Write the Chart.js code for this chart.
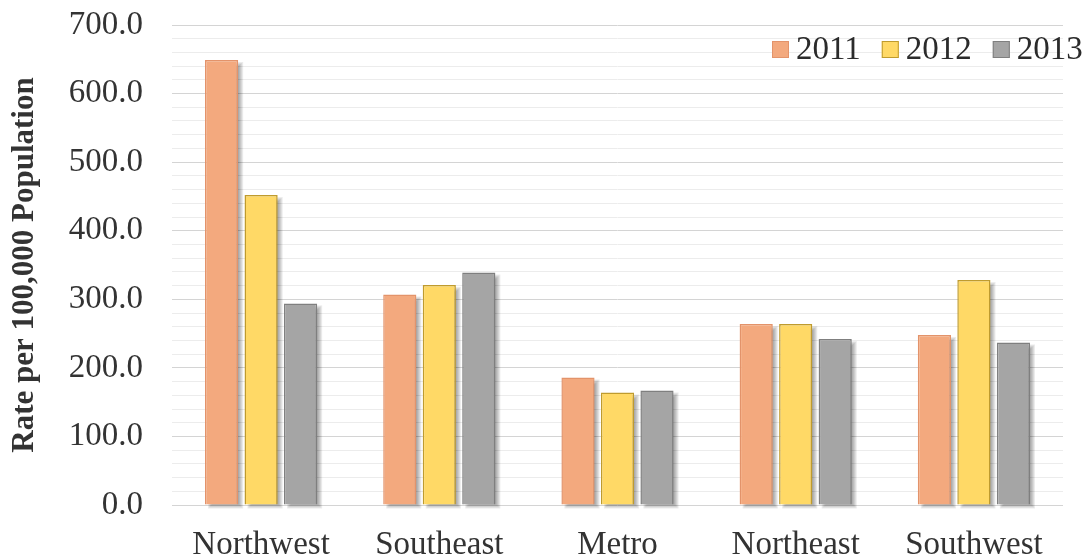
<!DOCTYPE html>
<html>
<head>
<meta charset="utf-8">
<script src="https://cdn.jsdelivr.net/npm/chart.js@4/dist/chart.umd.min.js"></script>
<style>
  html, body { margin: 0; padding: 0; background: #fff; }
  #wrap { width: 1091px; height: 558px; }
</style>
</head>
<body>
<div id="wrap"><canvas id="barchart" width="1091" height="558"></canvas></div>
<script>
const regions = ['Northwest', 'Southeast', 'Metro', 'Northeast', 'Southwest'];
const years = ['2011', '2012', '2013'];
const rate2011 = [649, 307, 186, 264, 248];
const rate2012 = [452, 321, 164, 264, 328];
const rate2013 = [294, 339, 167, 242, 237];

const fills = ['#F3A97E', '#FFD966', '#A5A5A5'];
const edges = ['#E3936A', '#BF9B2E', '#7F7F7F'];
const serif = "'Liberation Serif', 'Times New Roman', serif";

// soft drop shadow behind each bar (drawn from the bar elements themselves)
const barShadow = {
  id: 'barShadow',
  beforeDatasetsDraw(chart) {
    const c = chart.ctx;
    c.save();
    chart.data.datasets.forEach((ds, i) => {
      chart.getDatasetMeta(i).data.forEach(bar => {
        const l = bar.x - bar.width / 2 + 4;
        const t = bar.y + 3;
        const w = bar.width;
        const h = bar.base - bar.y;
        for (let k = 0; k < 6; k++) {
          c.fillStyle = 'rgba(0,0,0,0.08)';
          c.fillRect(l - k + 4, t - k + 4, w + 2 * k - 8, h + 2 * k - 8);
        }
      });
    });
    c.restore();
  }
};

// legend sits over the top-right of the plot
const cornerLegend = {
  id: 'cornerLegend',
  afterDraw(chart) {
    const c = chart.ctx;
    c.save();
    c.font = '33px ' + serif;
    c.textBaseline = 'middle';
    let x = 772;
    const y = 49;
    chart.data.datasets.forEach(ds => {
      c.fillStyle = ds.backgroundColor;
      c.fillRect(x, y - 8, 17, 17);
      c.strokeStyle = ds.borderColor;
      c.lineWidth = 1;
      c.strokeRect(x + 0.5, y - 7.5, 16, 16);
      c.fillStyle = '#2b2b2b';
      c.fillText(ds.label, x + 24, y + 1);
      x += 24 + c.measureText(ds.label).width + 21;
    });
    c.restore();
  }
};

const ctx = document.getElementById('barchart').getContext('2d');
const barchart = new Chart(ctx, {
  type: 'bar',
  data: {
    labels: regions,
    datasets: [rate2011, rate2012, rate2013].map((d, i) => ({
      label: years[i],
      data: d,
      backgroundColor: fills[i],
      borderColor: edges[i],
      borderWidth: 1.5,
      categoryPercentage: 0.665,
      barPercentage: 0.84
    }))
  },
  options: {
    responsive: false,
    animation: false,
    layout: { padding: { top: 25, right: 28, left: 0, bottom: 0 } },
    plugins: {
      legend: { display: false },
      tooltip: { enabled: false }
    },
    scales: {
      x: {
        grid: { display: false },
        border: { display: false },
        ticks: { color: '#333', font: { family: serif, size: 33 }, padding: 13 },
        afterFit(s) { s.height = 53; s.paddingLeft = 0; s.paddingRight = 0; }
      },
      y: {
        min: 0,
        max: 700,
        grid: {
          drawTicks: false,
          color: c => (c.tick.value % 100 === 0 ? '#D4D4D4' : '#ECECEC'),
          lineWidth: 1
        },
        border: { display: false },
        ticks: {
          stepSize: 20,
          autoSkip: false,
          padding: 29,
          color: '#333',
          font: { family: serif, size: 33 },
          callback: v => (v % 100 === 0 ? v.toFixed(1) : '')
        },
        title: {
          display: true,
          text: 'Rate per 100,000 Population',
          color: '#333',
          font: { family: serif, size: 31, weight: 'bold' },
          padding: { top: 6, bottom: 0 }
        },
        afterFit(s) { s.width = 172; s.paddingTop = 0; s.paddingBottom = 0; }
      }
    }
  },
  plugins: [barShadow, cornerLegend]
});
</script>
</body>
</html>
